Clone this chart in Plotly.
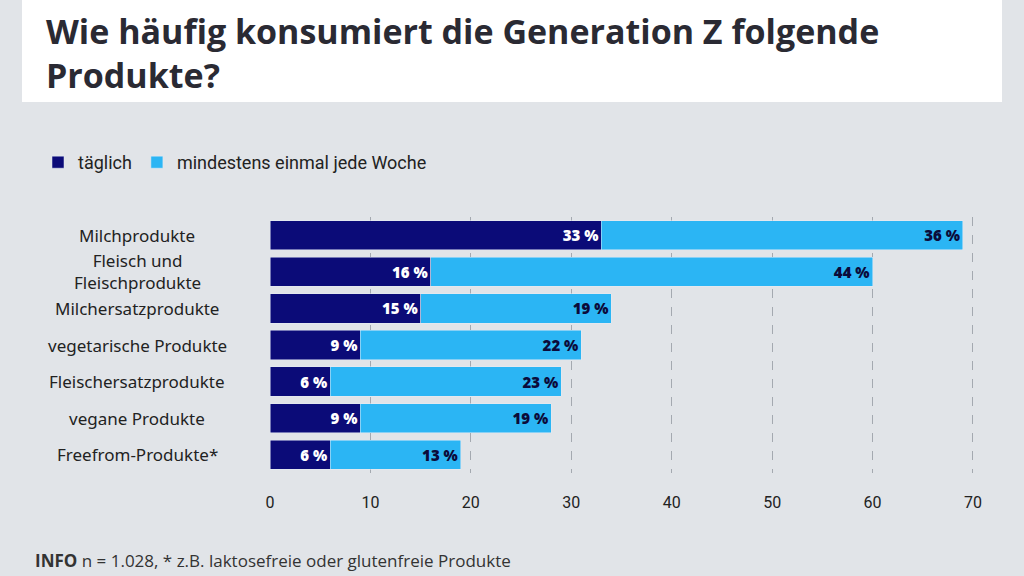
import plotly.graph_objects as go

categories = ["Milchprodukte", "Fleisch und<br>Fleischprodukte", "Milchersatzprodukte",
              "vegetarische Produkte", "Fleischersatzprodukte", "vegane Produkte", "Freefrom-Produkte*"]
daily = [33, 16, 15, 9, 6, 9, 6]
weekly = [36, 44, 19, 22, 23, 19, 13]

W, H = 1024, 576
L, T, PW, PH = 270, 217, 708, 256
fig = go.Figure()
fig.add_bar(y=categories, x=daily, orientation="h", name="täglich", marker_color="#0b0b78",
            text=[f"{v} %" for v in daily], textposition="inside", insidetextanchor="end",
            textfont=dict(color="white", family="Open Sans", size=15, weight=800))
fig.add_bar(y=categories, x=weekly, orientation="h", name="mindestens einmal jede Woche", marker_color="#2bb5f4",
            text=[f"{v} %" for v in weekly], textposition="inside", insidetextanchor="end",
            textfont=dict(color="#0b0b3a", family="Open Sans", size=15, weight=800))

px = lambda x: (x - L) / PW
py = lambda y: 1 - (y - T) / PH
ann = [dict(text=c, xref="paper", yref="y", x=px(137), y=c, xanchor="center", yanchor="middle",
            align="center", showarrow=False, font=dict(family="Noto Sans", size=17, color="#222"))
       for c in categories]
ann += [
    dict(text="<b>Wie häufig konsumiert die Generation Z folgende<br>Produkte?</b>", xref="paper", yref="paper",
         x=px(44), y=py(6), xanchor="left", yanchor="top", align="left", showarrow=False,
         font=dict(family="Open Sans", size=34, color="#2a2a33", weight=800)),
    dict(text="<b>INFO</b> n = 1.028, * z.B. laktosefreie oder glutenfreie Produkte", xref="paper", yref="paper",
         x=px(33), y=py(560), xanchor="left", yanchor="middle", showarrow=False,
         font=dict(family="Open Sans", size=17, color="#333")),
]
fig.update_layout(
    width=W, height=H, barmode="stack", bargap=0.2,
    paper_bgcolor="#e1e4e8", plot_bgcolor="#e1e4e8",
    margin=dict(l=L, r=W - L - PW, t=T, b=H - T - PH),
    font=dict(family="Roboto", color="#222", size=15),
    showlegend=True,
    legend=dict(orientation="h", x=px(38), y=py(144), xanchor="left", yanchor="top",
                font=dict(size=18), traceorder="normal", itemwidth=30),
    uniformtext=dict(mode="show", minsize=10),
    xaxis=dict(range=[0, 70.5], dtick=10, showgrid=True, gridcolor="#a4a9b0", griddash="dash",
               gridwidth=0.8, zeroline=False, ticks="", tickfont=dict(size=16), showline=False,
               ticklabelstandoff=18),
    yaxis=dict(autorange="reversed", showticklabels=False),
    shapes=[dict(type="rect", xref="paper", yref="paper", x0=px(22), x1=px(1002),
                 y0=py(102), y1=py(-2), fillcolor="white", line_width=0, layer="below")],
    annotations=ann,
)
fig.write_html("out.html", config={"displayModeBar": False},
               post_script="document.body.style.margin='0';document.body.style.background='#e1e4e8';document.body.style.overflow='hidden';")
